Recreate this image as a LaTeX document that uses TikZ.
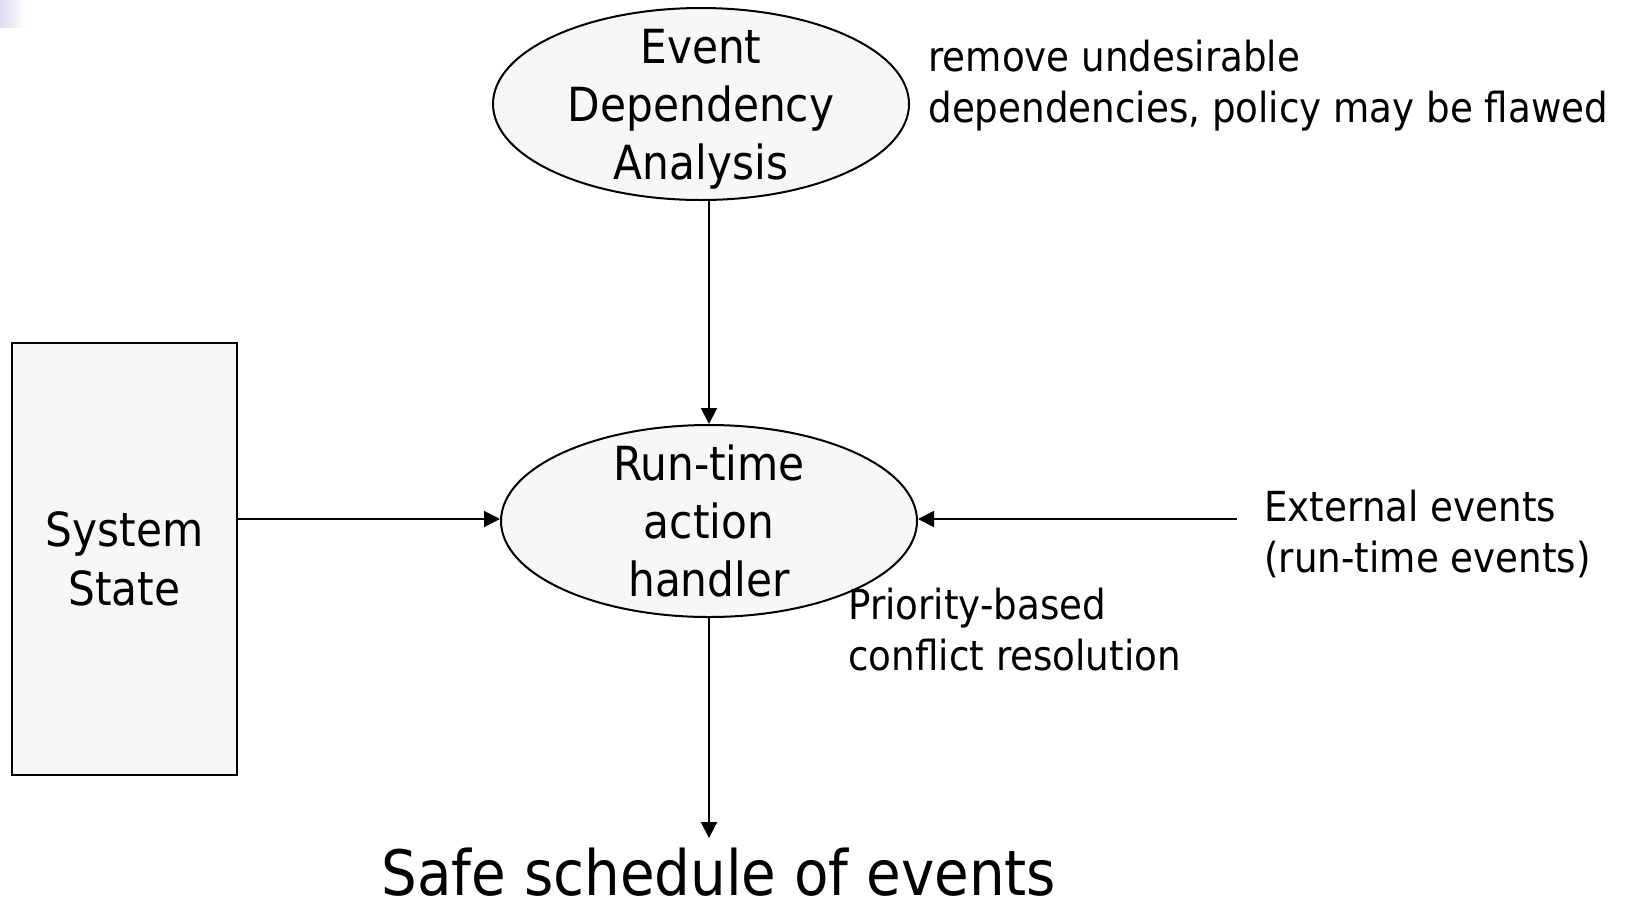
\documentclass[tikz,border=0pt]{standalone}
\usepackage{fontspec}
\setmainfont{DejaVu Sans Condensed}
\usepackage{tikz}
\usetikzlibrary{arrows.meta,shapes.geometric}
\usepackage{xcolor}
\definecolor{boxfill}{HTML}{F7F7F7}
\definecolor{corner}{HTML}{DCDCF0}

\begin{document}
\begin{tikzpicture}[x=0.5pt,y=-0.5pt]
		\tikzset{stage/.style = {shape=ellipse,draw,line width=1pt,fill=boxfill,inner xsep=0pt,inner ysep=-12pt,align=center,minimum width=208pt,minimum height=96pt,text depth=0pt,font=\fontsize{23.5}{29}\selectfont}}
		\tikzset{store/.style = {shape=rectangle,draw,line width=1pt,fill=boxfill,align=center,minimum width=112.5pt,minimum height=216pt,font=\fontsize{23.5}{29.5}\selectfont}}
		\tikzset{note/.style = {align=left,anchor=west,inner sep=0pt,font=\fontsize{20.7}{25.5}\selectfont}}
		\tikzset{edge/.style = {-{Triangle[length=8pt,width=8pt]},line width=1pt}}
		\useasboundingbox (0,0) rectangle (1626,901);
		\shade[left color=corner,right color=white] (0,0) rectangle (26,27);
		\node[stage] (eda) at (701, 104) {Event\\Dependency\\Analysis};
		\node[stage] (rtah) at (709, 521) {Run-time\\action\\handler};
		\node[store] (state) at (124.5, 559) {System\\State};
		\node[note] (remove) at (928, 86) {remove undesirable\\dependencies, policy may be flawed};
		\node[note] (ext) at (1264, 534) {External events\\(run-time events)};
		\node[note] (prio) at (848, 630) {Priority-based\\conflict resolution};
		\node[font=\fontsize{31.3}{38}\selectfont,inner sep=0pt,text depth=0pt,anchor=base] (safe) at (719, 895) {Safe schedule of events};
		\coordinate (extend) at (1237, 519);
		\coordinate (safeend) at (709, 838);
		%edges
		\draw[edge] (rtah.north |- eda.south) to (rtah.north);
		\draw[edge] (state.east |- extend) to (rtah.west |- extend);
		\draw[edge] (extend) to (rtah.east |- extend);
		\draw[edge] (rtah.south) to (safeend);
		\end{tikzpicture}
\end{document}
